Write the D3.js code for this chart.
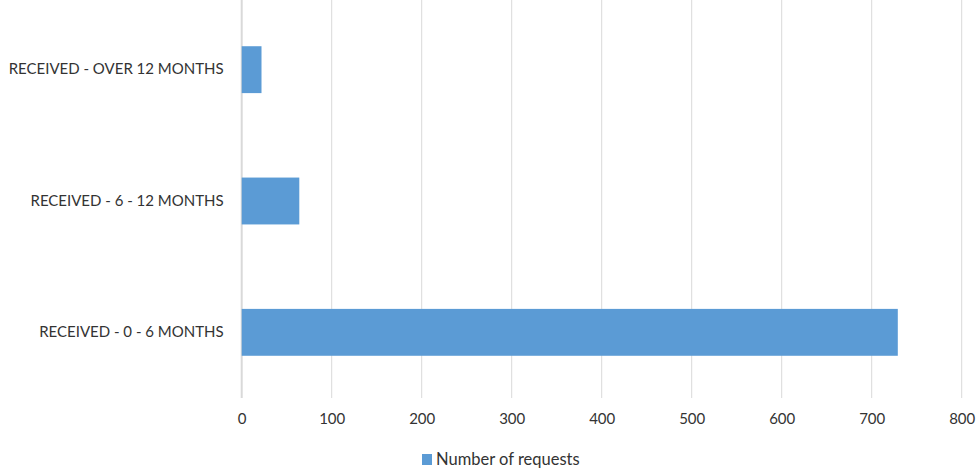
<!DOCTYPE html>
<html>
<head>
<meta charset="utf-8">
<script src="https://cdn.jsdelivr.net/npm/d3@7"></script>
<style>
  html, body { margin: 0; padding: 0; background: #fff; }
  svg { display: block; font-family: Lato, "Liberation Sans", sans-serif; }
</style>
</head>
<body>
<svg id="chart" width="980" height="475"></svg>
<script>
// Request backlog by age of receipt
const categories = ["RECEIVED - OVER 12 MONTHS", "RECEIVED - 6 - 12 MONTHS", "RECEIVED - 0 - 6 MONTHS"];
const requests = [22, 64, 729];
const xTicks = [0, 100, 200, 300, 400, 500, 600, 700, 800];
const seriesName = "Number of requests";

const svg = d3.select("#chart");
const margin = { left: 241.7, right: 18.3, top: 4, bottom: 77 };
const W = 980, H = 475;
const barColor = "#5B9BD5";
const textColor = "#333333";

const x = d3.scaleLinear().domain([0, 800]).range([margin.left, W - margin.right]);
const y = d3.scaleBand().domain(categories).range([margin.top, H - margin.bottom]).paddingInner(0.643).paddingOuter(0.3215);

// vertical gridlines
svg.append("g").selectAll("line").data(xTicks).join("line")
  .attr("x1", d => x(d)).attr("x2", d => x(d))
  .attr("y1", 0).attr("y2", H - margin.bottom)
  .attr("stroke", "#d9d9d9").attr("stroke-width", d => d === 0 ? 2 : 1);

// bars
svg.append("g").selectAll("rect").data(categories).join("rect")
  .attr("x", x(0))
  .attr("y", d => y(d))
  .attr("width", (d, i) => x(requests[i]) - x(0))
  .attr("height", y.bandwidth())
  .attr("fill", barColor);

// x axis labels
const xAxis = d3.axisBottom(x).tickValues(xTicks).tickSize(0).tickPadding(0);
const gx = svg.append("g").attr("transform", `translate(0,${H - margin.bottom + 15})`).call(xAxis);
gx.select(".domain").remove();
gx.selectAll("text").attr("font-size", 15).attr("fill", textColor).attr("font-family", "Lato, sans-serif").attr("dy", "0.71em");

// y axis labels
const yAxis = d3.axisLeft(y).tickSize(0).tickPadding(0);
const gy = svg.append("g").attr("transform", `translate(${margin.left - 18},0)`).call(yAxis);
gy.select(".domain").remove();
gy.selectAll("text").attr("font-size", 15).attr("fill", textColor).attr("font-family", "Lato, sans-serif");

// legend
const lg = svg.append("g").attr("transform", "translate(422,454)");
lg.append("rect").attr("width", 10).attr("height", 11).attr("fill", barColor);
lg.append("text").attr("x", 14).attr("y", 5.5).attr("dy", "0.35em")
  .attr("font-size", 16.5).attr("fill", textColor).text(seriesName);
</script>
</body>
</html>
